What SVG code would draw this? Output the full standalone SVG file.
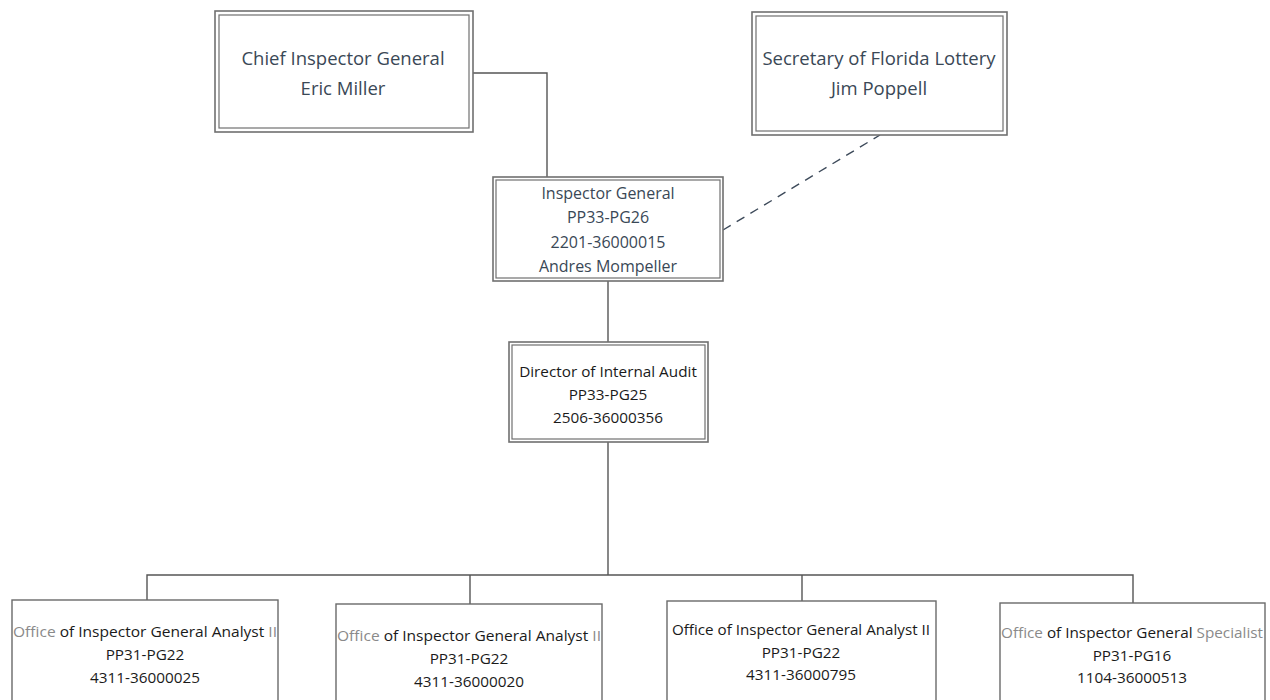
<svg xmlns="http://www.w3.org/2000/svg" width="1270" height="700" viewBox="0 0 1270 700">
<style>
.bg{fill:#ffffff}
.outer{fill:#ffffff;stroke:#707070;stroke-width:1.6}
.inner{fill:none;stroke:#707070;stroke-width:1.2}
.single{fill:#ffffff;stroke:#6a6a6a;stroke-width:1.4}
.conn{fill:none;stroke:#555555;stroke-width:1.4}
.dash{fill:none;stroke:#3d4a5a;stroke-width:1.4;stroke-dasharray:9 7}
.t{font-family:"Open Sans","Liberation Sans",sans-serif;text-anchor:middle;fill:#3a4856}
.tb{font-family:"Open Sans","Liberation Sans",sans-serif;text-anchor:middle;fill:#1a1a1a}
.g{fill:#8a8a8a}
</style>
<rect class="bg" x="0" y="0" width="1270" height="700"/>
<g id="connectors">
<path class="conn" d="M473 73 H547 V177"/>
<path class="conn" d="M608 281 V342"/>
<path class="conn" d="M608 442 V575"/>
<path class="conn" d="M147 600 V575 H1133 V603"/>
<path class="conn" d="M470 575 V604"/>
<path class="conn" d="M802 575 V601"/>
<path class="dash" d="M723 230 L880 135"/>
</g>
<g id="chief">
<rect class="outer" x="215" y="11" width="258" height="121"/>
<rect class="inner" x="219" y="15" width="250" height="113"/>
<text class="t" x="343" y="65" font-size="18.5">Chief Inspector General</text>
<text class="t" x="343" y="95" font-size="18.5">Eric Miller</text>
</g>
<g id="secretary">
<rect class="outer" x="752" y="12" width="255" height="123"/>
<rect class="inner" x="756" y="16" width="247" height="115"/>
<text class="t" x="879" y="65" font-size="18.5">Secretary of Florida Lottery</text>
<text class="t" x="879" y="95" font-size="18.5">Jim Poppell</text>
</g>
<g id="inspector-general">
<rect class="outer" x="493" y="177" width="230" height="104"/>
<rect class="inner" x="496" y="180" width="224" height="98"/>
<text class="t" x="608" y="199" font-size="16">Inspector General</text>
<text class="t" x="608" y="223" font-size="16">PP33-PG26</text>
<text class="t" x="608" y="248" font-size="16">2201-36000015</text>
<text class="t" x="608" y="272" font-size="16">Andres Mompeller</text>
</g>
<g id="director">
<rect class="outer" x="509" y="342" width="199" height="100"/>
<rect class="inner" x="512" y="345" width="193" height="94"/>
<text class="tb" x="608" y="377" font-size="15.3">Director of Internal Audit</text>
<text class="tb" x="608" y="400" font-size="15.3">PP33-PG25</text>
<text class="tb" x="608" y="423" font-size="15.3">2506-36000356</text>
</g>
<g id="analyst1">
<rect class="single" x="12" y="600" width="266" height="110"/>
<text class="tb" x="145" y="637" font-size="15.3" textLength="264" lengthAdjust="spacingAndGlyphs"><tspan class="g">Office</tspan> of Inspector General Analyst <tspan class="g">II</tspan></text>
<text class="tb" x="145" y="660" font-size="15.3">PP31-PG22</text>
<text class="tb" x="145" y="683" font-size="15.3">4311-36000025</text>
</g>
<g id="analyst2">
<rect class="single" x="336" y="604" width="266" height="110"/>
<text class="tb" x="469" y="641" font-size="15.3" textLength="264" lengthAdjust="spacingAndGlyphs"><tspan class="g">Office</tspan> of Inspector General Analyst <tspan class="g">II</tspan></text>
<text class="tb" x="469" y="664" font-size="15.3">PP31-PG22</text>
<text class="tb" x="469" y="687" font-size="15.3">4311-36000020</text>
</g>
<g id="analyst3">
<rect class="single" x="667" y="601" width="269" height="110"/>
<text class="tb" x="801" y="635" font-size="15.3" textLength="258" lengthAdjust="spacingAndGlyphs">Office of Inspector General Analyst II</text>
<text class="tb" x="801" y="658" font-size="15.3">PP31-PG22</text>
<text class="tb" x="801" y="680" font-size="15.3">4311-36000795</text>
</g>
<g id="specialist">
<rect class="single" x="1000" y="603" width="265" height="110"/>
<text class="tb" x="1132" y="638" font-size="15.3" textLength="262" lengthAdjust="spacingAndGlyphs"><tspan class="g">Office</tspan> of Inspector General <tspan class="g">Specialist</tspan></text>
<text class="tb" x="1132" y="661" font-size="15.3">PP31-PG16</text>
<text class="tb" x="1132" y="683" font-size="15.3">1104-36000513</text>
</g>
</svg>
